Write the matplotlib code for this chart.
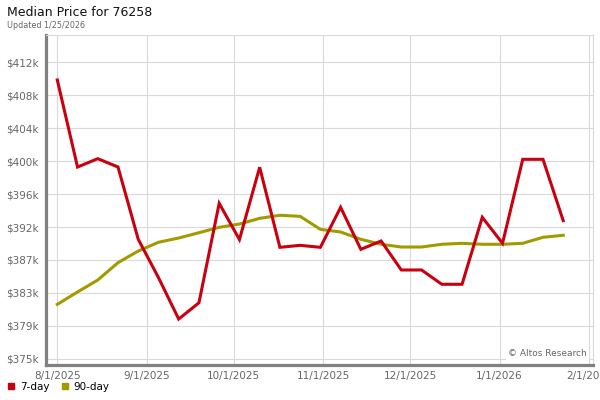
import datetime as dt
import matplotlib
matplotlib.use('Agg')
import matplotlib.pyplot as plt
import matplotlib.dates as mdates
from matplotlib.lines import Line2D

# weekly points starting 8/1/2025
start = dt.date(2025, 8, 1)
dates = [start + dt.timedelta(days=7 * i) for i in range(26)]

seven_day = [409.81, 398.97, 400.01, 398.97, 389.97, 385.2, 380.04, 382.07,
             394.45, 389.94, 398.94, 388.97, 389.22, 388.97, 393.95, 388.72,
             389.76, 386.15, 386.15, 384.37, 384.37, 392.71, 389.47, 399.93,
             399.93, 392.29]
ninety_day = [381.87, 383.41, 384.9, 387.06, 388.51, 389.6, 390.13, 390.79,
              391.46, 391.87, 392.58, 392.96, 392.83, 391.21, 390.88, 389.97,
              389.35, 389.01, 389.01, 389.35, 389.47, 389.35, 389.35, 389.47,
              390.22, 390.47]

ytick_vals = [375.1 + 4.1 * i for i in range(10)]
ytick_labels = ['$375k', '$379k', '$383k', '$387k', '$392k',
                '$396k', '$400k', '$404k', '$408k', '$412k']
xtick_dates = [dt.date(2025, 8, 1), dt.date(2025, 9, 1), dt.date(2025, 10, 1),
               dt.date(2025, 11, 1), dt.date(2025, 12, 1), dt.date(2026, 1, 1),
               dt.date(2026, 2, 1)]
xtick_labels = ['8/1/2025', '9/1/2025', '10/1/2025', '11/1/2025',
                '12/1/2025', '1/1/2026', '2/1/2026']

red = '#c8000f'
olive = '#a19b00'
gray = '#666666'

fig = plt.figure(figsize=(6, 4), dpi=100)
ax = fig.add_axes([45.5 / 600, 35.5 / 400, (593 - 45.5) / 600, (364.5 - 35) / 400])

ax.plot(dates, seven_day, color=red, lw=2.2, solid_joinstyle='miter', zorder=3)
ax.plot(dates, ninety_day, color=olive, lw=2.2, zorder=2)

ax.set_ylim(374.38, 415.41)
ax.set_xlim(mdates.date2num(start) - 4.08, mdates.date2num(start) + 185.3)

ax.set_yticks(ytick_vals)
ax.set_yticklabels(ytick_labels)
ax.set_xticks([mdates.date2num(d) for d in xtick_dates])
ax.set_xticklabels(xtick_labels)
ax.tick_params(length=0, labelsize=7.5, labelcolor=gray, pad=5)

ax.grid(True, color='#d9d9d9', lw=0.8)
ax.set_axisbelow(True)
for side in ['top', 'right']:
    ax.spines[side].set_color('#d9d9d9')
    ax.spines[side].set_linewidth(0.8)
for side in ['left', 'bottom']:
    ax.spines[side].set_color('#808080')
    ax.spines[side].set_linewidth(2.3)

ax.text(0.988, 0.033, '\u00a9 Altos Research', transform=ax.transAxes,
        ha='right', va='center', fontsize=6.5, color=gray,
        bbox=dict(facecolor='white', edgecolor='none', pad=1.5))

fig.text(7 / 600, 1 - 13 / 400, 'Median Price for 76258', fontsize=9,
         va='center', ha='left', color='#111111')
fig.text(7 / 600, 1 - 25 / 400, 'Updated 1/25/2026', fontsize=5.8,
         va='center', ha='left', color=gray)

handles = [Line2D([], [], marker='s', ls='', color=red, markersize=5),
           Line2D([], [], marker='s', ls='', color=olive, markersize=5)]
fig.legend(handles, ['7-day', '90-day'], loc='center left',
           bbox_to_anchor=(0.0, 1 - 387 / 400), ncol=2, frameon=False,
           fontsize=7.5, handletextpad=0.3, columnspacing=1.0,
           handlelength=1.0, borderaxespad=0.2)

fig.savefig('out.png', dpi=100)
